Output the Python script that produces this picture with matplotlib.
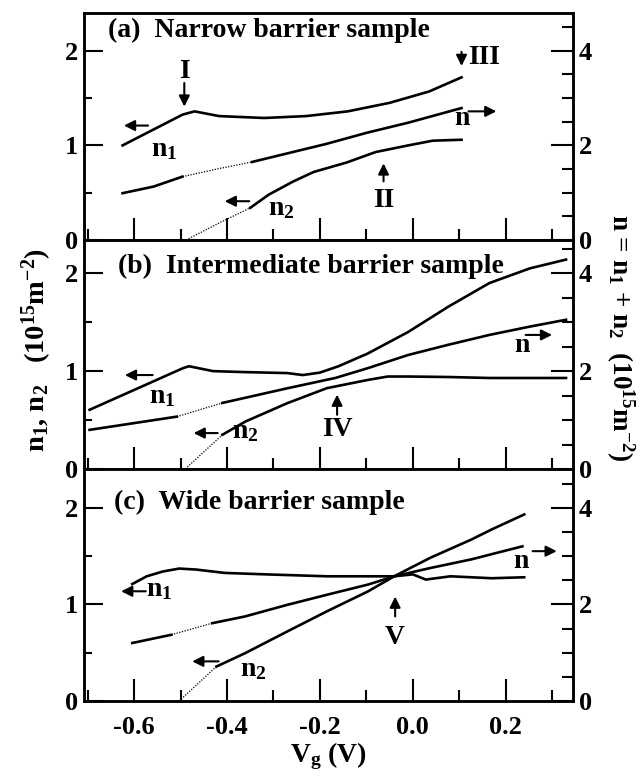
import numpy as np
import matplotlib
matplotlib.use("Agg")
import matplotlib.pyplot as plt

plt.rcParams["font.family"] = ["Liberation Serif", "DejaVu Serif"]
plt.rcParams["font.weight"] = "bold"
plt.rcParams["mathtext.fontset"] = "custom"
plt.rcParams["mathtext.rm"] = "Liberation Serif:bold"
plt.rcParams["mathtext.it"] = "Liberation Serif:bold"
plt.rcParams["mathtext.bf"] = "Liberation Serif:bold"
plt.rcParams["axes.unicode_minus"] = False

# panel (a) narrow barrier
a_n1_x = [-0.625, -0.496, -0.47, -0.417, -0.32, -0.23, -0.14, -0.05, 0.035, 0.105]
a_n1_y = [1.00, 1.325, 1.36, 1.31, 1.29, 1.31, 1.36, 1.45, 1.57, 1.72]
a_n_x = [-0.625, -0.558, -0.496]
a_n_y = [0.99, 1.13, 1.34]
a_n_dot_x = [-0.496, -0.417, -0.346]
a_n_dot_y = [1.34, 1.51, 1.65]
a_n2_x = [-0.346, -0.275, -0.187, -0.098, -0.01, 0.105]
a_n2_y = [1.65, 1.82, 2.03, 2.27, 2.48, 2.79]
a_m2_dot_x = [-0.488, -0.417, -0.35]
a_m2_dot_y = [0.0, 0.18, 0.34]
a_m2_x = [-0.35, -0.31, -0.257, -0.213, -0.142, -0.08, -0.01, 0.043, 0.105]
a_m2_y = [0.34, 0.48, 0.62, 0.72, 0.82, 0.93, 1.00, 1.05, 1.06]

# panel (b) intermediate barrier
b_n1_x = [-0.696, -0.495, -0.482, -0.43, -0.36, -0.27, -0.237, -0.20, -0.16, -0.097, -0.01, 0.077, 0.165, 0.252, 0.33]
b_n1_y = [0.605, 1.03, 1.05, 1.00, 0.99, 0.98, 0.96, 0.985, 1.05, 1.18, 1.40, 1.66, 1.90, 2.05, 2.14]
b_n_x = [-0.696, -0.508]
b_n_y = [0.80, 1.07]
b_n_dot_x = [-0.508, -0.41]
b_n_dot_y = [1.07, 1.35]
b_n2_x = [-0.41, -0.27, -0.167, -0.097, -0.01, 0.077, 0.165, 0.252, 0.33]
b_n2_y = [1.35, 1.65, 1.86, 2.06, 2.33, 2.54, 2.74, 2.91, 3.05]
b_m2_dot_x = [-0.49, -0.41]
b_m2_dot_y = [0.0, 0.35]
b_m2_x = [-0.41, -0.36, -0.27, -0.185, -0.097, -0.054, -0.01, 0.077, 0.165, 0.33]
b_m2_y = [0.35, 0.486, 0.673, 0.826, 0.91, 0.945, 0.945, 0.94, 0.93, 0.93]

# panel (c) wide barrier
c_n1_x = [-0.604, -0.573, -0.538, -0.503, -0.467, -0.405, -0.317, -0.184, -0.096, -0.04, 0.0, 0.028, 0.081, 0.17, 0.24]
c_n1_y = [1.21, 1.29, 1.34, 1.37, 1.36, 1.325, 1.31, 1.29, 1.29, 1.29, 1.31, 1.256, 1.29, 1.27, 1.28]
c_n_x = [-0.604, -0.52]
c_n_y = [1.20, 1.37]
c_n_dot_x = [-0.52, -0.432]
c_n_dot_y = [1.37, 1.61]
c_n2_x = [-0.432, -0.361, -0.27, -0.184, -0.096, -0.04, 0.037, 0.126, 0.236]
c_n2_y = [1.61, 1.75, 1.99, 2.20, 2.41, 2.58, 2.75, 2.93, 3.20]
c_m2_dot_x = [-0.503, -0.423]
c_m2_dot_y = [0.0, 0.356]
c_m2_x = [-0.423, -0.361, -0.27, -0.184, -0.096, -0.04, 0.037, 0.126, 0.17, 0.24]
c_m2_y = [0.356, 0.495, 0.72, 0.93, 1.135, 1.29, 1.48, 1.67, 1.775, 1.93]

titles = ["(a)  Narrow barrier sample", "(b)  Intermediate barrier sample", "(c)  Wide barrier sample"]
title_x = [-0.656, -0.635, -0.644]
title_y = [2.22, 2.07, 2.05]
ytops = [2.40, 2.34, 2.40]

fig = plt.figure(figsize=(6.43, 7.76), dpi=100)
W, H = 643.0, 776.0
rows = [(13, 240), (240, 469), (469, 701)]
left, right = 84, 573

axes = []
for i, (t, b) in enumerate(rows):
    ax = fig.add_axes([left / W, 1 - b / H, (right - left) / W, (b - t) / H])
    ax.set_xlim(-0.708, 0.345)
    ax.set_ylim(0, ytops[i])
    ax.set_xticks([-0.6, -0.4, -0.2, 0, 0.2])
    ax.set_xticks([-0.7, -0.5, -0.3, -0.1, 0.1, 0.3], minor=True)
    ax.set_yticks([0, 1, 2])
    ax.set_yticks([0.5, 1.5], minor=True)
    ax.tick_params(which="both", direction="in", top=False, right=False, width=1.5, labelsize=19)
    ax.tick_params(axis="y", which="major", length=14, pad=4)
    ax.tick_params(axis="y", which="minor", length=6)
    ax.tick_params(axis="x", which="major", length=16, pad=11)
    ax.tick_params(axis="x", which="minor", length=8)
    if i < 2:
        ax.tick_params(axis="x", labelbottom=False)
    for s in ax.spines.values():
        s.set_linewidth(1.8)
    ax2 = ax.twinx()
    ax2.set_ylim(0, 2 * ytops[i])
    ax2.set_yticks([0, 2, 4])
    ax2.set_yticks([0.5, 1, 1.5, 2.5, 3, 3.5, 4.5], minor=True)
    ax2.tick_params(which="both", direction="in", width=1.5, labelsize=19)
    ax2.tick_params(which="major", length=16, pad=4)
    ax2.tick_params(which="minor", length=8)
    for s in ax2.spines.values():
        s.set_linewidth(1.8)
    ax.text(title_x[i], title_y[i], titles[i], fontsize=20, fontweight="bold", va="center", ha="left")
    axes.append((ax, ax2))

lw = 1.9
dot = dict(color="k", lw=0.9, linestyle=(0, (1, 1.2)))

def arrow(ax, head, tail):
    ax.annotate("", xy=head, xytext=tail,
                arrowprops=dict(arrowstyle="-|>", color="k", lw=1.5, mutation_scale=16, shrinkA=0, shrinkB=0))

def label(ax, x, y, s, ha="center"):
    ax.text(x, y, s, fontsize=20, fontweight="bold", ha=ha, va="center")

# (a)
ax, ax2 = axes[0]
ax.plot(a_n1_x, a_n1_y, color="k", lw=lw)
ax.plot(a_m2_dot_x, a_m2_dot_y, **dot)
ax.plot(a_m2_x, a_m2_y, color="k", lw=lw)
ax2.plot(a_n_x, a_n_y, color="k", lw=lw)
ax2.plot(a_n_dot_x, a_n_dot_y, **dot)
ax2.plot(a_n2_x, a_n2_y, color="k", lw=lw)
arrow(ax, (-0.492, 1.41), (-0.492, 1.66))
label(ax, -0.492, 1.78, "I")
arrow(ax, (0.105, 1.84), (0.105, 1.99))
label(ax, 0.12, 1.93, "III", ha="left")
arrow(ax, (-0.622, 1.21), (-0.57, 1.21))
label(ax, -0.535, 0.96, "n$_1$")
arrow(ax, (0.18, 1.36), (0.12, 1.36))
label(ax, 0.105, 1.28, "n")
arrow(ax, (-0.063, 0.81), (-0.063, 0.62))
label(ax, -0.063, 0.42, "II")
arrow(ax, (-0.405, 0.41), (-0.352, 0.41))
label(ax, -0.284, 0.33, "n$_2$")

# (b)
ax, ax2 = axes[1]
ax.plot(b_n1_x, b_n1_y, color="k", lw=lw)
ax.plot(b_m2_dot_x, b_m2_dot_y, **dot)
ax.plot(b_m2_x, b_m2_y, color="k", lw=lw)
ax2.plot(b_n_x, b_n_y, color="k", lw=lw)
ax2.plot(b_n_dot_x, b_n_dot_y, **dot)
ax2.plot(b_n2_x, b_n2_y, color="k", lw=lw)
arrow(ax, (-0.62, 0.96), (-0.56, 0.96))
label(ax, -0.539, 0.74, "n$_1$")
arrow(ax, (0.30, 1.37), (0.243, 1.37))
label(ax, 0.235, 1.26, "n")
arrow(ax, (-0.472, 0.367), (-0.42, 0.367))
label(ax, -0.36, 0.38, "n$_2$")
arrow(ax, (-0.163, 0.76), (-0.163, 0.554))
label(ax, -0.163, 0.40, "IV")

# (c)
ax, ax2 = axes[2]
ax.plot(c_n1_x, c_n1_y, color="k", lw=lw)
ax.plot(c_m2_dot_x, c_m2_dot_y, **dot)
ax.plot(c_m2_x, c_m2_y, color="k", lw=lw)
ax2.plot(c_n_x, c_n_y, color="k", lw=lw)
ax2.plot(c_n_dot_x, c_n_dot_y, **dot)
ax2.plot(c_n2_x, c_n2_y, color="k", lw=lw)
arrow(ax, (-0.628, 1.135), (-0.575, 1.135))
label(ax, -0.575, 1.15, "n$_1$", ha="left")
arrow(ax, (0.31, 1.55), (0.258, 1.55))
label(ax, 0.232, 1.44, "n")
arrow(ax, (-0.475, 0.41), (-0.418, 0.41))
label(ax, -0.343, 0.33, "n$_2$")
arrow(ax, (-0.038, 1.08), (-0.038, 0.875))
label(ax, -0.038, 0.66, "V")
ax.set_xlabel("V$_g$ (V)", fontsize=20, fontweight="bold", labelpad=1)

fig.text(37 / W, 1 - 350 / H, "n$_1$, n$_2$   (10$^{15}$m$^{-2}$)", rotation=90,
         ha="center", va="center", fontsize=20.5, fontweight="bold")
fig.text(620 / W, 1 - 338 / H, "n = n$_1$ + n$_2$  (10$^{15}$m$^{-2}$)", rotation=-90,
         ha="center", va="center", fontsize=19.5, fontweight="bold")

fig.savefig("out.png", dpi=100)
